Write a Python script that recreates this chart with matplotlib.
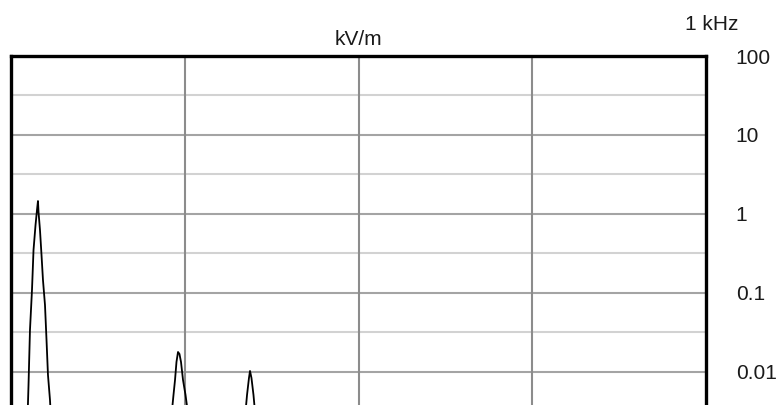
import numpy as np
import matplotlib
matplotlib.use("Agg")
import matplotlib.pyplot as plt

# Field-strength spectrum, 0 .. 1 kHz
freq_hz = [0, 23.7, 25.2, 27.3, 30.2, 32.4, 35.3, 37.4, 38.8, 39.6, 41.7, 43.9,
           46.0, 48.9, 51.1, 53.2, 56.1, 57.6, 60,
           225, 231.7, 233.8, 236.0, 238.1, 240.3, 242.4, 244.6, 247.5, 251.1, 254.0, 260,
           330, 337.4, 339.6, 342.4, 343.9, 346.0, 348.9, 351.1, 360, 1000]
field_kv_m = [0.001, 0.00247, 0.00684, 0.0340, 0.109, 0.350, 0.726, 1.12, 1.46, 1.06, 0.627, 0.303,
              0.146, 0.0705, 0.0254, 0.00916, 0.00442, 0.00247, 0.001,
              0.001, 0.00330, 0.00512, 0.00792, 0.0134, 0.0179, 0.0169, 0.0134, 0.00792, 0.00512, 0.00330, 0.001,
              0.001, 0.00312, 0.00512, 0.00839, 0.0103, 0.00839, 0.00512, 0.00312, 0.001, 0.001]

y_ticks = [100, 10, 1, 0.1, 0.01]
y_tick_labels = ["100", "10", "1", "0.1", "0.01"]
x_grid = [250, 500, 750]

plt.rcParams["font.family"] = ["Liberation Sans", "DejaVu Sans"]

W, H = 776, 405
fig = plt.figure(figsize=(W / 100, H / 100), dpi=100)
ax = fig.add_axes([11 / W, 0, (706 - 11) / W, 1 - 56 / H])

ax.set_yscale("log")
ax.set_xlim(0, 1000)
ax.set_ylim(10 ** -2.418, 100)

# grid: decade lines, half-decade lines, frequency lines
for v in y_ticks:
    ax.axhline(v, color="#a4a4a4", lw=1.5, zorder=1)
for v in y_ticks:
    ax.axhline(v / np.sqrt(10), color="#d2d2d2", lw=1.5, zorder=1)
for f in x_grid:
    ax.axvline(f, color="#8c8c8c", lw=1.5, zorder=1)

ax.plot(freq_hz, field_kv_m, color="black", lw=1.3, zorder=3)

for side in ("left", "top", "right"):
    ax.spines[side].set_linewidth(2.4)
    ax.spines[side].set_color("black")
ax.spines["bottom"].set_visible(False)

ax.set_xticks([])
ax.yaxis.tick_right()
ax.set_yticks(y_ticks)
ax.set_yticklabels(y_tick_labels, fontsize=15, color="#1a1a1a", ha="left")
ax.minorticks_off()
ax.tick_params(axis="y", length=0, pad=21.5)

ax.set_title("kV/m", fontsize=15, color="#1a1a1a", pad=8)
ax.text(1.0 + 6 / 695, 1.0 + 31 / 349, "1 kHz", transform=ax.transAxes,
        fontsize=15, color="#1a1a1a", ha="center", va="center")

fig.savefig("out.png", dpi=100)
